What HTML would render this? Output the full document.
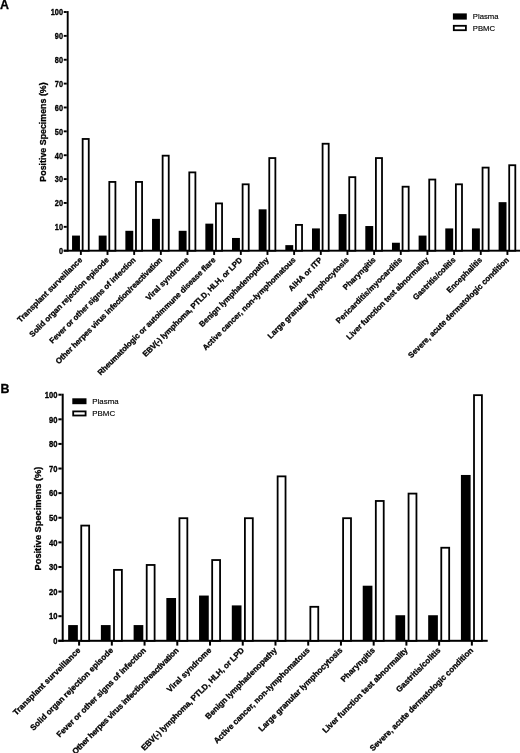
<!DOCTYPE html>
<html><head><meta charset="utf-8"><title>Positive Specimens</title><style>
html,body{margin:0;padding:0;background:#fff;}
svg{display:block;filter:grayscale(1);}
text{font-family:"Liberation Sans", sans-serif;fill:#000;}
.tl,.xl,.yl,.pn{font-weight:bold;stroke:#000;stroke-width:0.3px;}
.lg{stroke:#000;stroke-width:0.15px;}
</style></head>
<body><svg width="520" height="753" viewBox="0 0 520 753">
<rect width="520" height="753" fill="#fff"/>
<rect x="66.75" y="11.05" width="1.9" height="240.6" fill="#000"/>
<rect x="63.75" y="249.75" width="3" height="1.9" fill="#000"/>
<text transform="translate(63,254) scale(0.93,1.07)" class="tl" font-size="7.9" text-anchor="end">0</text>
<rect x="63.75" y="225.88" width="3" height="1.9" fill="#000"/>
<text transform="translate(63,230.13) scale(0.93,1.07)" class="tl" font-size="7.9" text-anchor="end">10</text>
<rect x="63.75" y="202.01" width="3" height="1.9" fill="#000"/>
<text transform="translate(63,206.26) scale(0.93,1.07)" class="tl" font-size="7.9" text-anchor="end">20</text>
<rect x="63.75" y="178.14" width="3" height="1.9" fill="#000"/>
<text transform="translate(63,182.39) scale(0.93,1.07)" class="tl" font-size="7.9" text-anchor="end">30</text>
<rect x="63.75" y="154.27" width="3" height="1.9" fill="#000"/>
<text transform="translate(63,158.52) scale(0.93,1.07)" class="tl" font-size="7.9" text-anchor="end">40</text>
<rect x="63.75" y="130.4" width="3" height="1.9" fill="#000"/>
<text transform="translate(63,134.65) scale(0.93,1.07)" class="tl" font-size="7.9" text-anchor="end">50</text>
<rect x="63.75" y="106.53" width="3" height="1.9" fill="#000"/>
<text transform="translate(63,110.78) scale(0.93,1.07)" class="tl" font-size="7.9" text-anchor="end">60</text>
<rect x="63.75" y="82.66" width="3" height="1.9" fill="#000"/>
<text transform="translate(63,86.91) scale(0.93,1.07)" class="tl" font-size="7.9" text-anchor="end">70</text>
<rect x="63.75" y="58.79" width="3" height="1.9" fill="#000"/>
<text transform="translate(63,63.04) scale(0.93,1.07)" class="tl" font-size="7.9" text-anchor="end">80</text>
<rect x="63.75" y="34.92" width="3" height="1.9" fill="#000"/>
<text transform="translate(63,39.17) scale(0.93,1.07)" class="tl" font-size="7.9" text-anchor="end">90</text>
<rect x="63.75" y="11.05" width="3" height="1.9" fill="#000"/>
<text transform="translate(63,15.3) scale(0.93,1.07)" class="tl" font-size="7.9" text-anchor="end">100</text>
<rect x="63.75" y="249.75" width="456.25" height="1.9" fill="#000"/>
<rect x="79.9" y="250.7" width="1.9" height="4.25" fill="#000"/>
<rect x="72.05" y="235.58" width="7.9" height="15.12" fill="#000"/>
<rect x="82.65" y="138.96" width="6.1" height="111.74" fill="#fff" stroke="#000" stroke-width="1.8"/>
<text id="a0" transform="translate(82.75,260.5) rotate(-45)" class="xl" font-size="7.9" text-anchor="end" textLength="87.93" lengthAdjust="spacing">Transplant surveillance</text>
<rect x="106.56" y="250.7" width="1.9" height="4.25" fill="#000"/>
<rect x="98.71" y="235.58" width="7.9" height="15.12" fill="#000"/>
<rect x="109.31" y="181.93" width="6.1" height="68.77" fill="#fff" stroke="#000" stroke-width="1.8"/>
<text id="a1" transform="translate(109.41,260.5) rotate(-45)" class="xl" font-size="7.9" text-anchor="end" textLength="108.8" lengthAdjust="spacing">Solid organ rejection episode</text>
<rect x="133.22" y="250.7" width="1.9" height="4.25" fill="#000"/>
<rect x="125.37" y="230.8" width="7.9" height="19.9" fill="#000"/>
<rect x="135.97" y="181.93" width="6.1" height="68.77" fill="#fff" stroke="#000" stroke-width="1.8"/>
<text id="a2" transform="translate(136.07,260.5) rotate(-45)" class="xl" font-size="7.9" text-anchor="end" textLength="118.03" lengthAdjust="spacing">Fever or other signs of infection</text>
<rect x="159.88" y="250.7" width="1.9" height="4.25" fill="#000"/>
<rect x="152.03" y="218.87" width="7.9" height="31.83" fill="#000"/>
<rect x="162.63" y="155.67" width="6.1" height="95.03" fill="#fff" stroke="#000" stroke-width="1.8"/>
<text id="a3" transform="translate(162.73,260.5) rotate(-45)" class="xl" font-size="7.9" text-anchor="end" textLength="147.05" lengthAdjust="spacing">Other herpes virus infection/reactivation</text>
<rect x="186.54" y="250.7" width="1.9" height="4.25" fill="#000"/>
<rect x="178.69" y="230.8" width="7.9" height="19.9" fill="#000"/>
<rect x="189.29" y="172.38" width="6.1" height="78.32" fill="#fff" stroke="#000" stroke-width="1.8"/>
<text id="a4" transform="translate(189.39,260.5) rotate(-45)" class="xl" font-size="7.9" text-anchor="end" textLength="57.16" lengthAdjust="spacing">Viral syndrome</text>
<rect x="213.2" y="250.7" width="1.9" height="4.25" fill="#000"/>
<rect x="205.35" y="223.64" width="7.9" height="27.06" fill="#000"/>
<rect x="215.95" y="203.41" width="6.1" height="47.29" fill="#fff" stroke="#000" stroke-width="1.8"/>
<text id="a5" transform="translate(216.05,260.5) rotate(-45)" class="xl" font-size="7.9" text-anchor="end" textLength="163.15" lengthAdjust="spacing">Rheumatologic or autoimmune disease flare</text>
<rect x="239.86" y="250.7" width="1.9" height="4.25" fill="#000"/>
<rect x="232.01" y="237.96" width="7.9" height="12.74" fill="#000"/>
<rect x="242.61" y="184.31" width="6.1" height="66.39" fill="#fff" stroke="#000" stroke-width="1.8"/>
<text id="a6" transform="translate(242.71,260.5) rotate(-45)" class="xl" font-size="7.9" text-anchor="end" textLength="137.01" lengthAdjust="spacing">EBV(-) lymphoma, PTLD, HLH, or LPD</text>
<rect x="266.52" y="250.7" width="1.9" height="4.25" fill="#000"/>
<rect x="258.67" y="209.32" width="7.9" height="41.38" fill="#000"/>
<rect x="269.27" y="158.06" width="6.1" height="92.64" fill="#fff" stroke="#000" stroke-width="1.8"/>
<text id="a7" transform="translate(269.37,260.5) rotate(-45)" class="xl" font-size="7.9" text-anchor="end" textLength="94.76" lengthAdjust="spacing">Benign lymphadenopathy</text>
<rect x="293.18" y="250.7" width="1.9" height="4.25" fill="#000"/>
<rect x="285.33" y="245.13" width="7.9" height="5.57" fill="#000"/>
<rect x="295.93" y="224.89" width="6.1" height="25.81" fill="#fff" stroke="#000" stroke-width="1.8"/>
<text id="a8" transform="translate(296.03,260.5) rotate(-45)" class="xl" font-size="7.9" text-anchor="end" textLength="127.67" lengthAdjust="spacing">Active cancer, non-lymphomatous</text>
<rect x="319.84" y="250.7" width="1.9" height="4.25" fill="#000"/>
<rect x="311.99" y="228.42" width="7.9" height="22.28" fill="#000"/>
<rect x="322.59" y="143.73" width="6.1" height="106.97" fill="#fff" stroke="#000" stroke-width="1.8"/>
<text id="a9" transform="translate(322.69,260.5) rotate(-45)" class="xl" font-size="7.9" text-anchor="end" textLength="44.11" lengthAdjust="spacing">AIHA or ITP</text>
<rect x="346.5" y="250.7" width="1.9" height="4.25" fill="#000"/>
<rect x="338.65" y="214.09" width="7.9" height="36.61" fill="#000"/>
<rect x="349.25" y="177.15" width="6.1" height="73.55" fill="#fff" stroke="#000" stroke-width="1.8"/>
<text id="a10" transform="translate(349.35,260.5) rotate(-45)" class="xl" font-size="7.9" text-anchor="end" textLength="111.22" lengthAdjust="spacing">Large granular lymphocytosis</text>
<rect x="373.16" y="250.7" width="1.9" height="4.25" fill="#000"/>
<rect x="365.31" y="226.03" width="7.9" height="24.67" fill="#000"/>
<rect x="375.91" y="158.06" width="6.1" height="92.64" fill="#fff" stroke="#000" stroke-width="1.8"/>
<text id="a11" transform="translate(376.01,260.5) rotate(-45)" class="xl" font-size="7.9" text-anchor="end" textLength="42.42" lengthAdjust="spacing">Pharyngitis</text>
<rect x="399.82" y="250.7" width="1.9" height="4.25" fill="#000"/>
<rect x="391.97" y="242.74" width="7.9" height="7.96" fill="#000"/>
<rect x="402.57" y="186.7" width="6.1" height="64" fill="#fff" stroke="#000" stroke-width="1.8"/>
<text id="a12" transform="translate(402.67,260.5) rotate(-45)" class="xl" font-size="7.9" text-anchor="end" textLength="89.89" lengthAdjust="spacing">Pericarditis/myocarditis</text>
<rect x="426.48" y="250.7" width="1.9" height="4.25" fill="#000"/>
<rect x="418.63" y="235.58" width="7.9" height="15.12" fill="#000"/>
<rect x="429.23" y="179.54" width="6.1" height="71.16" fill="#fff" stroke="#000" stroke-width="1.8"/>
<text id="a13" transform="translate(429.33,260.5) rotate(-45)" class="xl" font-size="7.9" text-anchor="end" textLength="112.77" lengthAdjust="spacing">Liver function test abnormality</text>
<rect x="453.14" y="250.7" width="1.9" height="4.25" fill="#000"/>
<rect x="445.29" y="228.42" width="7.9" height="22.28" fill="#000"/>
<rect x="455.89" y="184.31" width="6.1" height="66.39" fill="#fff" stroke="#000" stroke-width="1.8"/>
<text id="a14" transform="translate(455.99,260.5) rotate(-45)" class="xl" font-size="7.9" text-anchor="end" textLength="56.73" lengthAdjust="spacing">Gastritis/colitis</text>
<rect x="479.8" y="250.7" width="1.9" height="4.25" fill="#000"/>
<rect x="471.95" y="228.42" width="7.9" height="22.28" fill="#000"/>
<rect x="482.55" y="167.6" width="6.1" height="83.09" fill="#fff" stroke="#000" stroke-width="1.8"/>
<text id="a15" transform="translate(482.65,260.5) rotate(-45)" class="xl" font-size="7.9" text-anchor="end" textLength="46.56" lengthAdjust="spacing">Encephalitis</text>
<rect x="506.46" y="250.7" width="1.9" height="4.25" fill="#000"/>
<rect x="498.61" y="202.16" width="7.9" height="48.54" fill="#000"/>
<rect x="509.21" y="165.22" width="6.1" height="85.48" fill="#fff" stroke="#000" stroke-width="1.8"/>
<text id="a16" transform="translate(509.31,260.5) rotate(-45)" class="xl" font-size="7.9" text-anchor="end" textLength="138.56" lengthAdjust="spacing">Severe, acute dermatologic condition</text>
<text transform="translate(46.19,132) rotate(-90)" class="yl" font-size="8.85" text-anchor="middle">Positive Specimens (%)</text>
<rect x="452.9" y="13.4" width="13.9" height="6.2" fill="#000"/>
<rect x="453.8" y="25.8" width="12.1" height="4.4" fill="#fff" stroke="#000" stroke-width="1.8"/>
<text x="472.8" y="19.27" class="lg" font-size="7.7">Plasma</text>
<text x="472.8" y="30.77" class="lg" font-size="7.7">PBMC</text>
<text x="0" y="9" class="pn" font-size="12.4">A</text>
<rect x="61.7" y="393.7" width="2" height="248.1" fill="#000"/>
<rect x="58.4" y="639.8" width="3.3" height="2" fill="#000"/>
<text transform="translate(57.4,644.1) scale(0.94,1.03)" class="tl" font-size="8.1" text-anchor="end">0</text>
<rect x="58.4" y="615.19" width="3.3" height="2" fill="#000"/>
<text transform="translate(57.4,619.49) scale(0.94,1.03)" class="tl" font-size="8.1" text-anchor="end">10</text>
<rect x="58.4" y="590.58" width="3.3" height="2" fill="#000"/>
<text transform="translate(57.4,594.88) scale(0.94,1.03)" class="tl" font-size="8.1" text-anchor="end">20</text>
<rect x="58.4" y="565.97" width="3.3" height="2" fill="#000"/>
<text transform="translate(57.4,570.27) scale(0.94,1.03)" class="tl" font-size="8.1" text-anchor="end">30</text>
<rect x="58.4" y="541.36" width="3.3" height="2" fill="#000"/>
<text transform="translate(57.4,545.66) scale(0.94,1.03)" class="tl" font-size="8.1" text-anchor="end">40</text>
<rect x="58.4" y="516.75" width="3.3" height="2" fill="#000"/>
<text transform="translate(57.4,521.05) scale(0.94,1.03)" class="tl" font-size="8.1" text-anchor="end">50</text>
<rect x="58.4" y="492.14" width="3.3" height="2" fill="#000"/>
<text transform="translate(57.4,496.44) scale(0.94,1.03)" class="tl" font-size="8.1" text-anchor="end">60</text>
<rect x="58.4" y="467.53" width="3.3" height="2" fill="#000"/>
<text transform="translate(57.4,471.83) scale(0.94,1.03)" class="tl" font-size="8.1" text-anchor="end">70</text>
<rect x="58.4" y="442.92" width="3.3" height="2" fill="#000"/>
<text transform="translate(57.4,447.22) scale(0.94,1.03)" class="tl" font-size="8.1" text-anchor="end">80</text>
<rect x="58.4" y="418.31" width="3.3" height="2" fill="#000"/>
<text transform="translate(57.4,422.61) scale(0.94,1.03)" class="tl" font-size="8.1" text-anchor="end">90</text>
<rect x="58.4" y="393.7" width="3.3" height="2" fill="#000"/>
<text transform="translate(57.4,398) scale(0.94,1.03)" class="tl" font-size="8.1" text-anchor="end">100</text>
<rect x="58.4" y="639.8" width="429.3" height="2" fill="#000"/>
<rect x="78.1" y="640.8" width="2" height="4.8" fill="#000"/>
<rect x="68.15" y="625.08" width="9.7" height="15.72" fill="#000"/>
<rect x="81.25" y="525.58" width="7.9" height="115.22" fill="#fff" stroke="#000" stroke-width="1.8"/>
<text id="b0" transform="translate(81,650.9) rotate(-45)" class="xl" font-size="8.15" text-anchor="end" textLength="91.6" lengthAdjust="spacing">Transplant surveillance</text>
<rect x="110.83" y="640.8" width="2" height="4.8" fill="#000"/>
<rect x="100.88" y="625.08" width="9.7" height="15.72" fill="#000"/>
<rect x="113.98" y="569.88" width="7.9" height="70.92" fill="#fff" stroke="#000" stroke-width="1.8"/>
<text id="b1" transform="translate(113.73,650.9) rotate(-45)" class="xl" font-size="8.15" text-anchor="end" textLength="113.43" lengthAdjust="spacing">Solid organ rejection episode</text>
<rect x="143.56" y="640.8" width="2" height="4.8" fill="#000"/>
<rect x="133.61" y="625.08" width="9.7" height="15.72" fill="#000"/>
<rect x="146.71" y="564.96" width="7.9" height="75.84" fill="#fff" stroke="#000" stroke-width="1.8"/>
<text id="b2" transform="translate(146.46,650.9) rotate(-45)" class="xl" font-size="8.15" text-anchor="end" textLength="122.74" lengthAdjust="spacing">Fever or other signs of infection</text>
<rect x="176.29" y="640.8" width="2" height="4.8" fill="#000"/>
<rect x="166.34" y="598.01" width="9.7" height="42.79" fill="#000"/>
<rect x="179.44" y="518.2" width="7.9" height="122.6" fill="#fff" stroke="#000" stroke-width="1.8"/>
<text id="b3" transform="translate(179.19,650.9) rotate(-45)" class="xl" font-size="8.15" text-anchor="end" textLength="146.8" lengthAdjust="spacing">Other herpes virus infection/reactivation</text>
<rect x="209.02" y="640.8" width="2" height="4.8" fill="#000"/>
<rect x="199.07" y="595.55" width="9.7" height="45.25" fill="#000"/>
<rect x="212.17" y="560.04" width="7.9" height="80.76" fill="#fff" stroke="#000" stroke-width="1.8"/>
<text id="b4" transform="translate(211.92,650.9) rotate(-45)" class="xl" font-size="8.15" text-anchor="end" textLength="59.13" lengthAdjust="spacing">Viral syndrome</text>
<rect x="241.75" y="640.8" width="2" height="4.8" fill="#000"/>
<rect x="231.8" y="605.4" width="9.7" height="35.4" fill="#000"/>
<rect x="244.9" y="518.2" width="7.9" height="122.6" fill="#fff" stroke="#000" stroke-width="1.8"/>
<text id="b5" transform="translate(244.65,650.9) rotate(-45)" class="xl" font-size="8.15" text-anchor="end" textLength="141.61" lengthAdjust="spacing">EBV(-) lymphoma, PTLD, HLH, or LPD</text>
<rect x="274.48" y="640.8" width="2" height="4.8" fill="#000"/>
<rect x="277.63" y="476.36" width="7.9" height="164.44" fill="#fff" stroke="#000" stroke-width="1.8"/>
<text id="b6" transform="translate(277.38,650.9) rotate(-45)" class="xl" font-size="8.15" text-anchor="end" textLength="97.35" lengthAdjust="spacing">Benign lymphadenopathy</text>
<rect x="307.21" y="640.8" width="2" height="4.8" fill="#000"/>
<rect x="310.36" y="606.8" width="7.9" height="34" fill="#fff" stroke="#000" stroke-width="1.8"/>
<text id="b7" transform="translate(310.11,650.9) rotate(-45)" class="xl" font-size="8.15" text-anchor="end" textLength="131.73" lengthAdjust="spacing">Active cancer, non-lymphomatous</text>
<rect x="339.94" y="640.8" width="2" height="4.8" fill="#000"/>
<rect x="343.09" y="518.2" width="7.9" height="122.6" fill="#fff" stroke="#000" stroke-width="1.8"/>
<text id="b8" transform="translate(342.84,650.9) rotate(-45)" class="xl" font-size="8.15" text-anchor="end" textLength="114.81" lengthAdjust="spacing">Large granular lymphocytosis</text>
<rect x="372.67" y="640.8" width="2" height="4.8" fill="#000"/>
<rect x="362.72" y="585.71" width="9.7" height="55.09" fill="#000"/>
<rect x="375.82" y="500.97" width="7.9" height="139.83" fill="#fff" stroke="#000" stroke-width="1.8"/>
<text id="b9" transform="translate(375.57,650.9) rotate(-45)" class="xl" font-size="8.15" text-anchor="end" textLength="44.71" lengthAdjust="spacing">Pharyngitis</text>
<rect x="405.4" y="640.8" width="2" height="4.8" fill="#000"/>
<rect x="395.45" y="615.24" width="9.7" height="25.56" fill="#000"/>
<rect x="408.55" y="493.59" width="7.9" height="147.21" fill="#fff" stroke="#000" stroke-width="1.8"/>
<text id="b10" transform="translate(408.3,650.9) rotate(-45)" class="xl" font-size="8.15" text-anchor="end" textLength="116.75" lengthAdjust="spacing">Liver function test abnormality</text>
<rect x="438.13" y="640.8" width="2" height="4.8" fill="#000"/>
<rect x="428.18" y="615.24" width="9.7" height="25.56" fill="#000"/>
<rect x="441.28" y="547.73" width="7.9" height="93.07" fill="#fff" stroke="#000" stroke-width="1.8"/>
<text id="b11" transform="translate(441.03,650.9) rotate(-45)" class="xl" font-size="8.15" text-anchor="end" textLength="59.06" lengthAdjust="spacing">Gastritis/colitis</text>
<rect x="470.86" y="640.8" width="2" height="4.8" fill="#000"/>
<rect x="460.91" y="474.96" width="9.7" height="165.84" fill="#000"/>
<rect x="474.01" y="395.15" width="7.9" height="245.65" fill="#fff" stroke="#000" stroke-width="1.8"/>
<text id="b12" transform="translate(473.76,650.9) rotate(-45)" class="xl" font-size="8.15" text-anchor="end" textLength="142.43" lengthAdjust="spacing">Severe, acute dermatologic condition</text>
<text transform="translate(41.33,518.5) rotate(-90)" class="yl" font-size="9.25" text-anchor="middle">Positive Specimens (%)</text>
<rect x="72.3" y="398.3" width="14.2" height="5.9" fill="#000"/>
<rect x="73.2" y="411.4" width="12.4" height="4.1" fill="#fff" stroke="#000" stroke-width="1.8"/>
<text x="92.3" y="404.09" class="lg" font-size="7.9">Plasma</text>
<text x="92.3" y="416.29" class="lg" font-size="7.9">PBMC</text>
<text x="0.5" y="392.9" class="pn" font-size="12.4">B</text>
</svg></body></html>
